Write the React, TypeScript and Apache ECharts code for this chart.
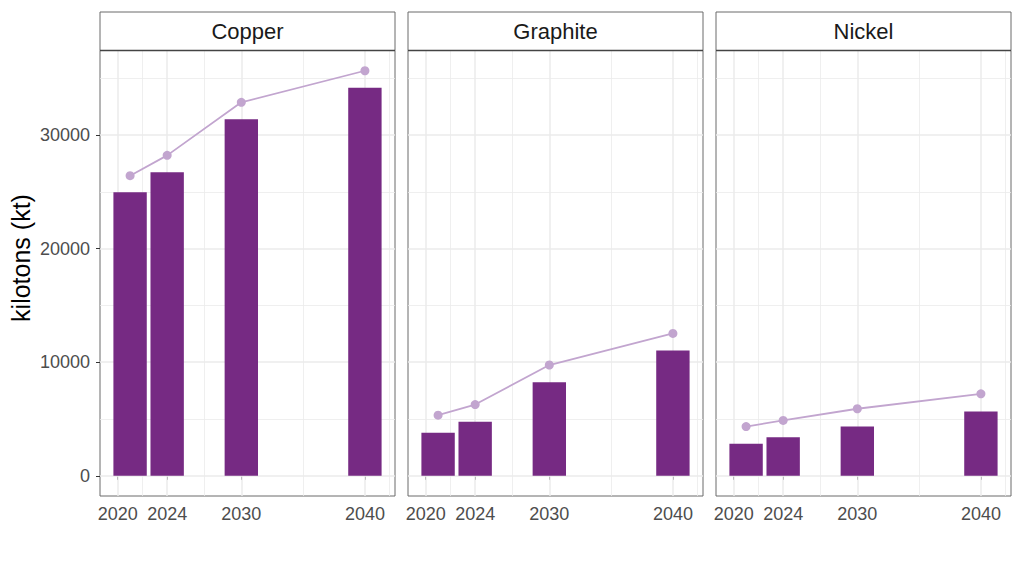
import React, { useEffect, useRef } from "react";
import * as echarts from "echarts";

// ---- data ----
const minerals = ["Copper", "Graphite", "Nickel"];
const years = [2021, 2024, 2030, 2040];
const xTickYears = [2020, 2024, 2030, 2040];
const xMinorYears = [2022, 2027, 2035, 2042];
const yTicks = [0, 10000, 20000, 30000];
const yMinorTicks = [5000, 15000, 25000, 35000];

const copperBars = [24960, 26720, 31380, 34160];
const copperPoints = [26420, 28210, 32880, 35660];
const graphiteBars = [3780, 4750, 8240, 11020];
const graphitePoints = [5330, 6270, 9750, 12530];
const nickelBars = [2820, 3390, 4330, 5660];
const nickelPoints = [4330, 4870, 5900, 7210];

const barSeries = [copperBars, graphiteBars, nickelBars];
const pointSeries = [copperPoints, graphitePoints, nickelPoints];

const yTitle = "kilotons (kt)";

// ---- layout / style ----
const PANEL_LEFTS = [100, 408, 716];
const PANEL_W = 295;
const PANEL_TOP = 50.5;
const PANEL_H = 445.5;
const STRIP_TOP = 12;
const FONT = "'Liberation Sans', Arial, Helvetica, sans-serif";
const BAR_COLOR = "#762A83";
const POINT_COLOR = "#C2A5CF";
const GRID_COLOR = "#EBEBEB";
const BORDER_COLOR = "#6b6b6b";

export default function App() {
  const ref = useRef<HTMLDivElement>(null);

  useEffect(() => {
    if (!ref.current) return;
    const chart = echarts.init(ref.current, undefined, { renderer: "svg" });

    // scale ranges like ggplot: bar width 0.9 * resolution, 5% expansion
    const res = Math.min(...years.slice(1).map((y, i) => y - years[i]));
    const barW = 0.9 * res;
    const lo = Math.min(...years) - barW / 2;
    const hi = Math.max(...years) + barW / 2;
    const xPad = (hi - lo) * 0.05;
    const xMin = lo - xPad;
    const xMax = hi + xPad;
    const allVals = [...barSeries.flat(), ...pointSeries.flat()];
    const yHi = Math.max(...allVals);
    const yPad = yHi * 0.05;
    const yMin = -yPad;
    const yMax = yHi + yPad;
    const barPx = (barW / (xMax - xMin)) * PANEL_W;

    const grids: any[] = [];
    const xAxes: any[] = [];
    const yAxes: any[] = [];
    const series: any[] = [];
    const graphics: any[] = [];

    minerals.forEach((m, i) => {
      grids.push({
        left: PANEL_LEFTS[i],
        top: PANEL_TOP,
        width: PANEL_W,
        height: PANEL_H,
        show: true,
        backgroundColor: "#ffffff",
        borderColor: BORDER_COLOR,
        borderWidth: 1,
        z: 0,
      });
      xAxes.push({
        type: "value",
        gridIndex: i,
        min: xMin,
        max: xMax,
        axisLine: { show: false },
        splitLine: { show: false },
        axisTick: {
          show: true,
          customValues: xTickYears,
          length: 4,
          lineStyle: { color: "#333333", width: 1 },
        },
        axisLabel: {
          show: true,
          customValues: xTickYears,
          color: "#4D4D4D",
          fontSize: 18,
          fontFamily: FONT,
          margin: 9,
          formatter: (v: number) => String(Math.round(v)),
        },
      });
      yAxes.push({
        type: "value",
        gridIndex: i,
        min: yMin,
        max: yMax,
        axisLine: { show: false },
        splitLine: { show: false },
        axisTick: {
          show: i === 0,
          customValues: yTicks,
          length: 4,
          lineStyle: { color: "#333333", width: 1 },
        },
        axisLabel: {
          show: i === 0,
          customValues: yTicks,
          color: "#4D4D4D",
          fontSize: 18,
          fontFamily: FONT,
          margin: 10,
          formatter: (v: number) => String(Math.round(v)),
        },
      });

      const gridLines = [
        ...yMinorTicks.map((v) => ({ yAxis: v, lineStyle: { width: 0.8 } })),
        ...xMinorYears.map((v) => ({ xAxis: v, lineStyle: { width: 0.8 } })),
        ...yTicks.map((v) => ({ yAxis: v, lineStyle: { width: 1.5 } })),
        ...xTickYears.map((v) => ({ xAxis: v, lineStyle: { width: 1.5 } })),
      ];
      series.push({
        type: "line",
        xAxisIndex: i,
        yAxisIndex: i,
        data: [],
        silent: true,
        z: 1,
        markLine: {
          silent: true,
          z: 1,
          symbol: ["none", "none"],
          label: { show: false },
          lineStyle: { color: GRID_COLOR, type: "solid" },
          emphasis: { disabled: true },
          data: gridLines,
        },
      });
      series.push({
        type: "bar",
        name: m + " bars",
        xAxisIndex: i,
        yAxisIndex: i,
        barWidth: barPx,
        z: 2,
        itemStyle: { color: BAR_COLOR },
        data: years.map((y, k) => [y, barSeries[i][k]]),
      });
      series.push({
        type: "line",
        name: m + " points",
        xAxisIndex: i,
        yAxisIndex: i,
        z: 3,
        symbol: "circle",
        symbolSize: 9,
        lineStyle: { color: POINT_COLOR, width: 1.8 },
        itemStyle: { color: POINT_COLOR },
        data: years.map((y, k) => [y, pointSeries[i][k]]),
      });

      // facet strip
      graphics.push({
        type: "rect",
        shape: {
          x: PANEL_LEFTS[i],
          y: STRIP_TOP,
          width: PANEL_W,
          height: PANEL_TOP - STRIP_TOP,
        },
        style: { fill: "#ffffff", stroke: BORDER_COLOR, lineWidth: 1 },
        z: 10,
      });
      graphics.push({
        type: "line",
        shape: {
          x1: PANEL_LEFTS[i],
          y1: PANEL_TOP,
          x2: PANEL_LEFTS[i] + PANEL_W,
          y2: PANEL_TOP,
        },
        style: { stroke: "#444444", lineWidth: 1.6 },
        z: 11,
      });
      graphics.push({
        type: "text",
        x: PANEL_LEFTS[i] + PANEL_W / 2,
        y: (STRIP_TOP + PANEL_TOP) / 2 + 0.5,
        style: {
          text: m,
          fill: "#1A1A1A",
          fontSize: 22,
          fontFamily: FONT,
          align: "center",
          verticalAlign: "middle",
        },
        z: 12,
      });
    });

    graphics.push({
      type: "text",
      x: 21,
      y: 258,
      rotation: Math.PI / 2,
      style: {
        text: yTitle,
        fill: "#000000",
        fontSize: 25,
        fontFamily: FONT,
        align: "center",
        verticalAlign: "middle",
      },
      z: 12,
    });

    chart.setOption({
      animation: false,
      backgroundColor: "#ffffff",
      grid: grids,
      xAxis: xAxes,
      yAxis: yAxes,
      series,
      graphic: graphics,
    });

    return () => chart.dispose();
  }, []);

  return (
    <div
      ref={ref}
      style={{ position: "fixed", left: 0, top: 0, width: 1023, height: 562 }}
    />
  );
}
